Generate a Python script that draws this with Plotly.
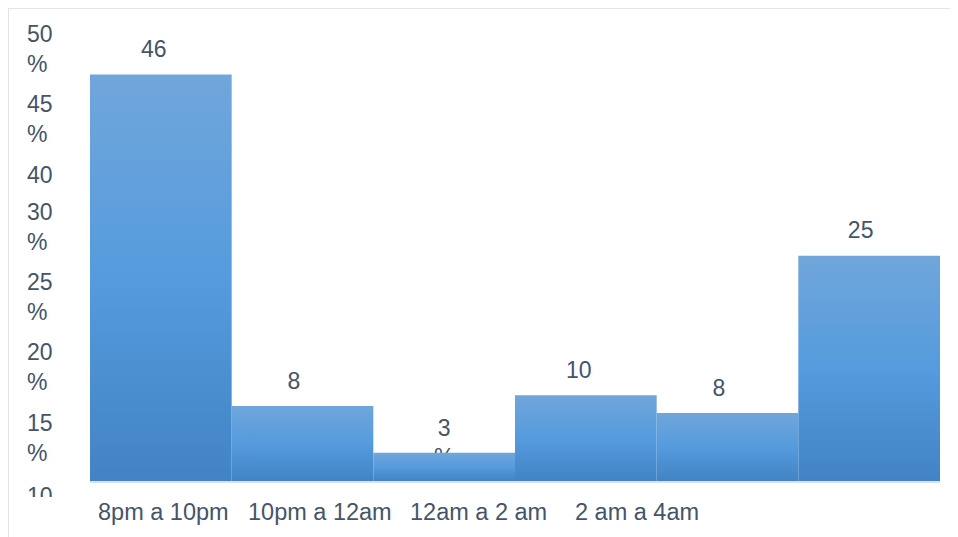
import plotly.graph_objects as go

# bar values (percent) and the labels printed over them
values = [46.0, 8.5, 3.2, 9.7, 7.7, 25.5]
value_labels = ["46", "8", "3<br>%", "10", "8", "25"]

# category labels under the axis (only four are printed in the source)
x_labels = ["8pm a 10pm", "10pm a 12am", "12am a 2 am", "2 am a 4am"]
x_label_pos = [0.02, 1.12, 2.24, 3.36]

# left-hand tick labels, as printed (they do not follow the scale)
y_labels = ["50<br>%", "45<br>%", "40", "30<br>%", "25<br>%", "20<br>%", "15<br>%"]
y_label_pos = [0.918, 0.769, 0.649, 0.540, 0.391, 0.242, 0.091]

FONT = "Liberation Sans, Arial, sans-serif"
TXT = "#44546A"
W, H = 958, 537
# the page puts the figure 8px in from the top-left corner
L, R, T, B = 82, 26, 2, 64
PW, PH = W - L - R, H - T - B
YMAX = 53.3

# value labels sit a little left of the bar centres in the source
label_dx = [-0.05, -0.06, 0.0, -0.05, -0.06, -0.06]

fig = go.Figure()

# value labels first, so the bars cover the stray "%" under the 3
fig.add_trace(
    go.Scatter(
        x=[i + d for i, d in enumerate(label_dx)],
        y=[v + 3.9 for v in values],
        mode="text",
        text=value_labels,
        textposition="bottom center",
        textfont=dict(family=FONT, size=23, color=TXT),
        showlegend=False,
        hoverinfo="skip",
    )
)

# bars drawn as filled boxes so they can carry a vertical gradient
for i, v in enumerate(values):
    fig.add_trace(
        go.Scatter(
            x=[i - 0.5, i + 0.5, i + 0.5, i - 0.5, i - 0.5],
            y=[0, 0, v, v, 0],
            mode="lines",
            line=dict(width=0),
            fill="toself",
            fillcolor="#559BDD",
            fillgradient=dict(
                type="vertical",
                colorscale=[[0, "#4283C5"], [0.5, "#559BDD"], [1, "#70A6DB"]],
            ),
            showlegend=False,
            hoverinfo="skip",
        )
    )

ann = []
for txt, yp in zip(y_labels, y_label_pos):
    ann.append(
        dict(
            text=txt, x=(17 - L) / PW, y=yp, xref="paper", yref="paper",
            xanchor="left", yanchor="middle", align="left", showarrow=False,
            font=dict(family=FONT, size=23, color=TXT),
        )
    )
# the cut-off "10" at the bottom of the axis
ann.append(
    dict(
        text="10", x=(17 - L) / PW, y=0, xref="paper", yref="paper",
        xanchor="left", yanchor="top", align="left", valign="top", showarrow=False,
        height=14, font=dict(family=FONT, size=23, color=TXT),
    )
)
for txt, xp in zip(x_labels, x_label_pos):
    ann.append(
        dict(
            text=txt, x=xp, y=0, xref="x", yref="paper",
            xanchor="center", yanchor="top", yshift=-16, showarrow=False,
            font=dict(family=FONT, size=23.5, color=TXT),
        )
    )

# light frame around the chart (top and left edges are visible)
shapes = [
    dict(type="line", xref="paper", yref="paper",
         x0=(0 - L) / PW, x1=(W + 10 - L) / PW, y0=(H - B + 0) / PH, y1=(H - B + 0) / PH,
         line=dict(color="#E1E5EB", width=2)),
    dict(type="line", xref="paper", yref="paper",
         x0=(0 - L) / PW, x1=(0 - L) / PW, y0=(H - B) / PH, y1=-(B + 10) / PH,
         line=dict(color="#E1E5EB", width=2)),
]

fig.update_layout(
    width=W,
    height=H,
    margin=dict(l=L, r=R, t=T, b=B, pad=0),
    paper_bgcolor="white",
    plot_bgcolor="white",
    showlegend=False,
    annotations=ann,
    shapes=shapes,
)
fig.update_xaxes(
    range=[-0.5, len(values) - 0.5], showgrid=False, zeroline=False,
    showticklabels=False, ticks="", showline=True, linecolor="#D9E0EA", linewidth=2,
)
fig.update_yaxes(
    range=[0, YMAX], showgrid=False, zeroline=False, showticklabels=False, ticks="",
    showline=False,
)

fig.write_html("out.html")
